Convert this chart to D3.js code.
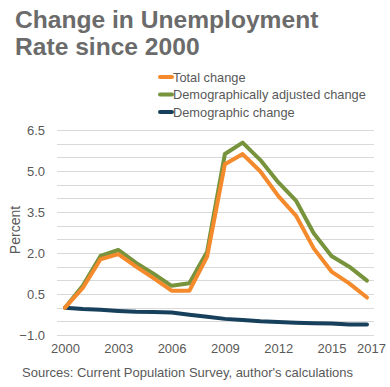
<!DOCTYPE html>
<html>
<head>
<meta charset="utf-8">
<script src="https://cdn.jsdelivr.net/npm/d3@7"></script>
<style>
  body { margin: 0; background: #fff; }
  text { font-family: "Liberation Sans", Arial, sans-serif; }
</style>
</head>
<body>
<div id="chart"></div>
<script>
var years = [2000, 2001, 2002, 2003, 2004, 2005, 2006, 2007, 2008, 2009, 2010, 2011, 2012, 2013, 2014, 2015, 2016, 2017];
var totalChange = [0, 0.72, 1.77, 1.96, 1.5, 1.07, 0.62, 0.62, 1.87, 5.25, 5.62, 4.98, 4.09, 3.37, 2.17, 1.32, 0.89, 0.37];
var adjustedChange = [0, 0.8, 1.89, 2.11, 1.64, 1.23, 0.8, 0.89, 2.05, 5.62, 6.04, 5.4, 4.59, 3.92, 2.72, 1.89, 1.5, 0.99];
var demographicChange = [0, -0.05, -0.08, -0.12, -0.15, -0.16, -0.18, -0.26, -0.33, -0.41, -0.45, -0.5, -0.52, -0.55, -0.57, -0.58, -0.62, -0.62];
var yTicks = [-1.0, 0.5, 2.0, 3.5, 5.0, 6.5];
var xTicks = [2000, 2003, 2006, 2009, 2012, 2015, 2017];

var series = [
  {name: 'Total change', values: totalChange, color: '#f58a2c'},
  {name: 'Demographically adjusted change', values: adjustedChange, color: '#77933c'},
  {name: 'Demographic change', values: demographicChange, color: '#17405c'}
];

var W = 390, H = 387;
var svg = d3.select('#chart').append('svg')
    .attr('width', W)
    .attr('height', H);

// title
var title = svg.append('text')
    .attr('x', 15)
    .attr('font-size', 24.6)
    .attr('font-weight', 'bold')
    .attr('fill', '#6b6b6b');
title.append('tspan').attr('x', 15).attr('y', 28).text('Change in Unemployment');
title.append('tspan').attr('x', 15).attr('y', 55).text('Rate since 2000');

// legend
var legend = svg.append('g');
series.forEach(function(s, i) {
  var y = 77 + i * 17.5;
  legend.append('line')
      .attr('x1', 160).attr('x2', 172)
      .attr('y1', y).attr('y2', y)
      .attr('stroke', s.color)
      .attr('stroke-width', 4)
      .attr('stroke-linecap', 'round');
  legend.append('text')
      .attr('x', 173).attr('y', y + 4.5)
      .attr('font-size', 12.8)
      .attr('fill', '#595959')
      .text(s.name);
});

var x = d3.scaleLinear().domain([2000, 2017]).range([65, 367]);
var y = d3.scaleLinear().domain([-1, 6.5]).range([335, 130]);

// gridlines every 0.5
var grid = d3.range(-1, 6.51, 0.5);
svg.append('g').selectAll('line')
    .data(grid)
    .enter().append('line')
    .attr('x1', 57).attr('x2', 374)
    .attr('y1', function(d) { return Math.round(y(d)) + 0.5; })
    .attr('y2', function(d) { return Math.round(y(d)) + 0.5; })
    .attr('stroke', '#d9d9d9')
    .attr('stroke-width', 1);

// y axis labels
var yAxis = svg.append('g')
    .attr('transform', 'translate(57,0)')
    .call(d3.axisLeft(y).tickValues(yTicks).tickFormat(d3.format('.1f')).tickSize(0).tickPadding(12));
yAxis.select('.domain').remove();
yAxis.selectAll('text')
    .attr('font-size', 13)
    .attr('fill', '#595959')
    .style('font-family', '"Liberation Sans", Arial, sans-serif');

// x axis labels
var xAxis = svg.append('g')
    .attr('transform', 'translate(0,335)')
    .call(d3.axisBottom(x).tickValues(xTicks).tickFormat(d3.format('d')).tickSize(0).tickPadding(9));
xAxis.select('.domain').remove();
xAxis.selectAll('text')
    .attr('font-size', 13)
    .attr('fill', '#595959')
    .style('font-family', '"Liberation Sans", Arial, sans-serif');
xAxis.selectAll('.tick').filter(function(d) { return d === 2017; })
    .select('text').attr('dx', 4);

// y axis title
svg.append('text')
    .attr('transform', 'translate(20,230) rotate(-90)')
    .attr('text-anchor', 'middle')
    .attr('font-size', 14)
    .attr('fill', '#595959')
    .text('Percent');

// lines
var line = d3.line()
    .x(function(d, i) { return x(years[i]); })
    .y(function(d) { return y(d); });

svg.append('g').selectAll('path')
    .data(series.slice().reverse())
    .enter().append('path')
    .attr('d', function(s) { return line(s.values); })
    .attr('fill', 'none')
    .attr('stroke', function(s) { return s.color; })
    .attr('stroke-width', 4)
    .attr('stroke-linejoin', 'round')
    .attr('stroke-linecap', 'round');

// source note
svg.append('text')
    .attr('x', 22).attr('y', 376.5)
    .attr('font-size', 13)
    .attr('fill', '#595959')
    .text("Sources: Current Population Survey, author's calculations");
</script>
</body>
</html>
